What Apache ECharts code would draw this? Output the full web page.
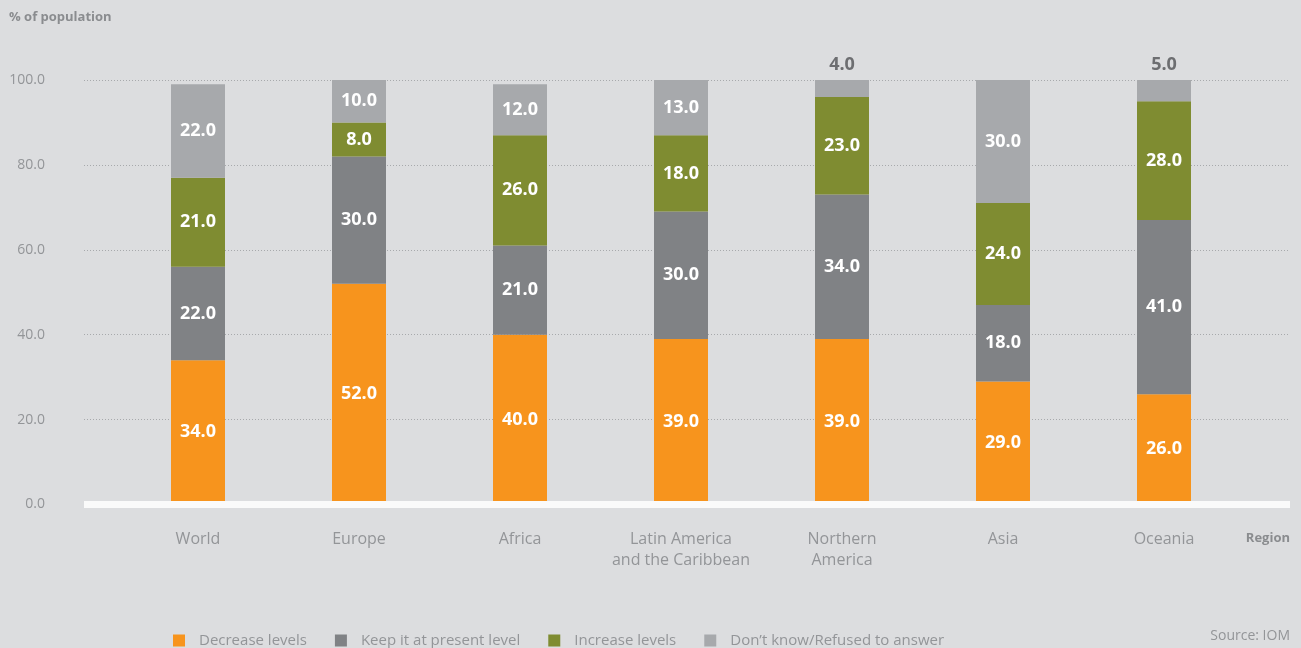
<!DOCTYPE html>
<html>
<head>
<meta charset="utf-8">
<script src="https://cdn.jsdelivr.net/npm/echarts@6/dist/echarts.min.js"></script>
<style>
  html, body { margin: 0; padding: 0; background: #dcdddf; }
  #chart { width: 1301px; height: 648px; }
</style>
</head>
<body>
<div id="chart"></div>
<script>
const regions = ["World", "Europe", "Africa", "Latin America\nand the Caribbean", "Northern\nAmerica", "Asia", "Oceania"];
const decreaseLevels = [34, 52, 40, 39, 39, 29, 26];
const keepLevel = [22, 30, 21, 30, 34, 18, 41];
const increaseLevels = [21, 8, 26, 18, 23, 24, 28];
const dontKnow = [22, 10, 12, 13, 4, 30, 5];
const seriesNames = ["Decrease levels", "Keep it at present level", "Increase levels", "Don\u2019t know/Refused to answer"];
const yTicks = [0, 20, 40, 60, 80, 100];

// 小的“不知道”值放在柱顶上方
const outsideIdx = [4, 6];

const chart = echarts.init(document.getElementById("chart"));
const font = "'Open Sans', 'Noto Sans', sans-serif";
const colors = ["#f7941d", "#808285", "#7f8c31", "#a7a9ac"];

const barLabel = {
  show: true,
  position: "inside",
  color: "#ffffff",
  fontWeight: "bold",
  fontSize: 18,
  fontFamily: font,
  formatter: (p) => Number(p.value).toFixed(1),
};

function makeSeries(name, data, idx) {
  return {
    name: name,
    type: "bar",
    stack: "all",
    xAxisIndex: 1,
    yAxisIndex: 1,
    barWidth: 54,
    itemStyle: { color: colors[idx] },
    label: barLabel,
    data: data.map((v, i) => {
      if (idx === 3 && outsideIdx.indexOf(i) >= 0) {
        return {
          value: v,
          label: { position: "top", color: "#6d6e71", distance: 6 },
        };
      }
      return v;
    }),
  };
}

const option = {
  backgroundColor: "#dcdddf",
  animation: false,
  textStyle: { fontFamily: font },
  graphic: [
    {
      type: "text", left: 9, top: 11,
      style: { text: "% of population", fill: "#8a8c8f", font: "bold 13px " + font },
    },
    {
      type: "text", right: 11, top: 532,
      style: { text: "Region", fill: "#8a8c8f", font: "bold 13px " + font },
    },
    {
      type: "text", right: 11, top: 629,
      style: { text: "Source: IOM", fill: "#939598", font: "14px " + font },
    },
  ],
  legend: {
    left: 168,
    top: 628,
    itemWidth: 12,
    itemHeight: 12,
    itemGap: 28,
    icon: "rect",
    textStyle: { color: "#939598", fontSize: 15, fontFamily: font, padding: [0, 0, 0, 9] },
    data: seriesNames,
  },
  grid: [
    { left: 84, right: 11, top: 80, bottom: 143.5 },
    { left: 117.5, width: 1127, top: 80, bottom: 143.5 },
  ],
  xAxis: [
    {
      type: "value", gridIndex: 0, min: 0, max: 1, z: 10,
      axisLine: { show: true, lineStyle: { color: "#fafafa", width: 7, cap: "butt" } },
      axisTick: { show: false },
      axisLabel: { show: false },
      splitLine: { show: false },
    },
    {
      type: "category", gridIndex: 1, data: regions,
      axisLine: { show: false },
      axisTick: { show: false },
      axisLabel: { interval: 0, color: "#939598", fontSize: 16, lineHeight: 21, margin: 24, fontFamily: font },
    },
  ],
  yAxis: [
    {
      type: "value", gridIndex: 0, min: yTicks[0], max: yTicks[yTicks.length - 1], interval: 20,
      axisLine: { show: false },
      axisTick: { show: false },
      axisLabel: {
        color: "#939598", fontSize: 14, margin: 39, fontFamily: font,
        formatter: (v) => v.toFixed(1),
      },
      splitLine: { lineStyle: { color: "#a7a9ac", type: [1, 2], width: 1 } },
    },
    { type: "value", gridIndex: 1, min: 0, max: 100, show: false },
  ],
  series: [
    makeSeries(seriesNames[0], decreaseLevels, 0),
    makeSeries(seriesNames[1], keepLevel, 1),
    makeSeries(seriesNames[2], increaseLevels, 2),
    makeSeries(seriesNames[3], dontKnow, 3),
  ],
};
chart.setOption(option);
</script>
</body>
</html>
